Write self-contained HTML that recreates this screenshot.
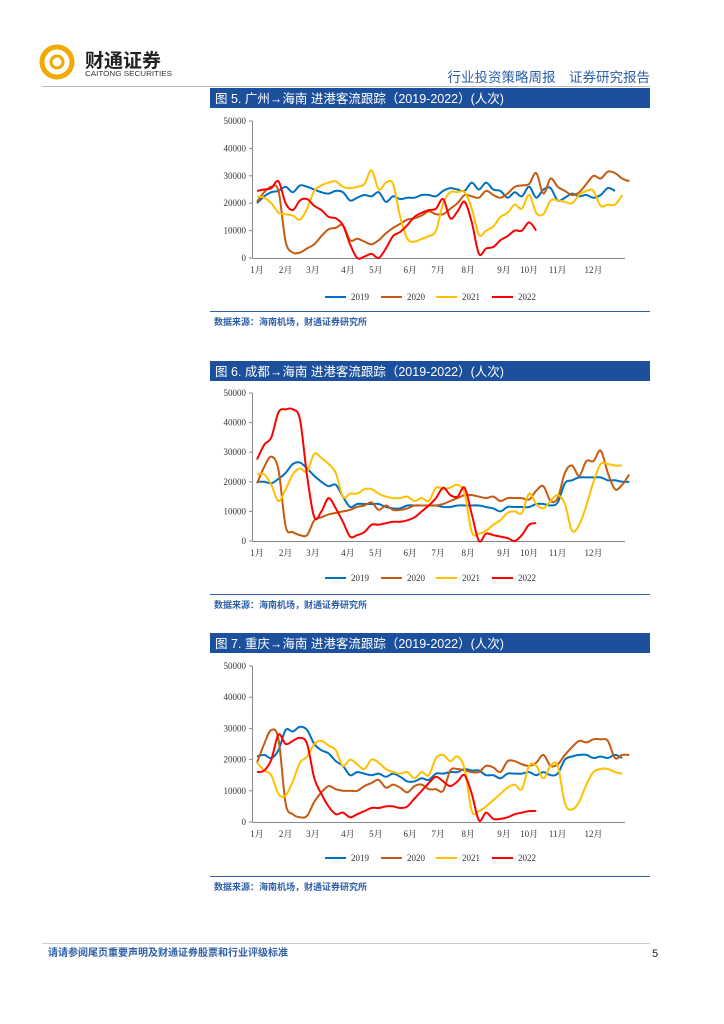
<!DOCTYPE html>
<html><head><meta charset="utf-8">
<style>
body{margin:0;background:#fff;}
svg{display:block;font-family:"Liberation Serif","Noto Serif CJK SC",serif;}
.cn{font-family:"Liberation Sans","Noto Sans CJK SC",sans-serif;}
</style></head>
<body>
<svg id="page" width="724" height="1024" viewBox="0 0 724 1024" xmlns="http://www.w3.org/2000/svg">
  <g>
    <circle cx="57" cy="62" r="15" fill="none" stroke="#f2a900" stroke-width="5"/>
    <circle cx="57" cy="62" r="6" fill="none" stroke="#f2a900" stroke-width="3"/>
    <text x="85" y="67" class="cn" font-size="19" font-weight="bold" fill="#222">财通证券</text>
    <text x="85" y="76" class="cn" font-size="7" fill="#333" textLength="87" lengthAdjust="spacingAndGlyphs">CAITONG SECURITIES</text>
  </g>
  <text x="650" y="82" text-anchor="end" class="cn" font-size="13.5" fill="#2e5fa8">行业投资策略周报　证券研究报告</text>
  <line x1="42" y1="86.5" x2="650" y2="86.5" stroke="#bbb" stroke-width="1"/>

  <g id="charts"></g>

  <line x1="42" y1="943.5" x2="650" y2="943.5" stroke="#ccc" stroke-width="1"/>
  <text x="48" y="956" class="cn" font-size="10" font-weight="bold" fill="#2e5fa8">请请参阅尾页重要声明及财通证券股票和行业评级标准</text>
  <text x="652" y="957" class="cn" font-size="11" fill="#222">5</text>
</svg>
<script>
const categories = ["1月","2月","3月","4月","5月","6月","7月","8月","9月","10月","11月","12月"];
const monthWeekIdx = [0,4,7.8,12.7,16.6,21.4,25.3,29.5,34.5,38,42,47];
const yTicks = [0,10000,20000,30000,40000,50000];
const seriesNames = ["2019","2020","2021","2022"];
const titles = ["图 5. 广州→海南  进港客流跟踪（2019-2022）(人次)","图 6. 成都→海南  进港客流跟踪（2019-2022）(人次)","图 7. 重庆→海南  进港客流跟踪（2019-2022）(人次)"];

const gz2019 = [20000,22500,24000,24500,26000,24000,26500,26000,25000,24000,23500,24500,24000,21000,22000,23000,22500,24000,20500,22500,21500,22000,22000,23000,23000,22500,24500,25500,25000,24500,27500,25000,27500,25000,24500,22000,24000,22500,26000,22000,25000,25500,21000,22000,23500,22500,23000,22000,23000,25500,24500];
const gz2020 = [20500,24000,26000,24500,6000,2000,2000,3500,5000,8000,10500,11000,12000,6500,7000,6000,5000,6500,9000,11000,12500,14000,14500,15500,17000,16000,16000,18000,20000,23000,22500,22000,24500,23000,22000,23500,26000,26500,27000,31000,23500,29000,26000,24500,23000,24000,27000,30000,29000,31500,31000,29000,28000];
const gz2021 = [22500,22000,20000,16500,16000,15500,14000,18000,24500,26500,27500,28000,26000,25500,26000,27000,32000,25000,27500,27000,15000,7000,6000,7000,8000,10000,20000,24000,24000,24000,18000,8500,10000,11500,15000,16500,19500,18000,23000,16500,16000,21000,21000,20500,20000,23000,24500,24500,19000,19500,19500,23000];
const gz2022 = [24500,25000,25500,28000,20000,17500,21000,21500,19000,17500,15000,14500,12000,5000,0,500,1500,0,3500,8000,9500,12000,15000,16500,17500,18000,21500,14500,17000,20500,13000,1500,3500,4000,6500,8000,10000,10000,13000,10000];

const cd2019 = [20000,20000,19500,21000,23000,26000,26500,24500,22000,20000,18500,19000,15000,11500,12500,12500,12500,12500,11500,11000,11000,12000,12000,12000,12000,12000,11500,11500,12000,12000,12000,12000,11500,11000,10000,11500,11500,11500,11500,12500,12500,12000,13000,19500,20500,21500,21500,21500,21500,20500,20500,20000,20000];
const cd2020 = [19500,25000,28500,24000,5000,3000,2000,2000,7000,8000,9000,9500,10000,10500,11500,12000,13000,10500,12000,10500,10500,11000,12000,12000,12000,12000,12500,13500,14500,15500,15500,15000,14500,15000,13500,14500,14500,14500,14000,17000,18500,13500,14500,23000,25500,22000,27000,27000,30500,23000,17500,19000,22500];
const cd2021 = [22500,22500,19000,13500,17500,22500,24500,23500,29500,28000,26000,23000,15000,16000,16000,17500,17500,16000,15000,14500,14500,15000,13500,14500,13500,18000,17500,18000,19000,16000,3000,2500,3500,5500,7000,9500,10000,9500,16000,12500,11000,13500,15500,12500,3500,5500,12000,20000,26000,26000,25500,25500];
const cd2022 = [27500,32500,35000,43500,44500,44500,41000,22000,8000,10000,14500,11000,6500,1500,2000,3000,5500,5500,6000,6500,6500,7000,8000,10000,12000,14500,18000,15500,15000,18000,9000,0,2500,2000,1500,1000,0,2000,5500,6000];

const cq2019 = [21000,21500,20500,23000,29500,29000,30500,29500,25000,23000,22000,19500,18000,15000,16000,15500,15000,15500,14500,15500,14500,13000,13000,14000,13500,15500,15500,16000,16000,17000,16500,16500,15000,15000,14000,15500,15500,15500,16000,15000,16000,15000,15500,20000,21000,21500,21500,20500,21000,20500,21500,20500];
const cq2020 = [19000,25000,29500,26500,6000,2500,1500,2000,6500,9500,11500,10500,10000,10000,10000,11500,12500,13500,11000,12000,11000,9500,11500,12000,10500,10500,10000,16500,17000,16500,16000,16000,18000,17500,16000,19500,19500,18500,18000,19000,21500,18000,18500,21500,24000,26000,25500,26500,26500,26000,20500,21500,21500];
const cq2021 = [19000,16500,15000,9000,8500,13000,19000,21000,25000,26000,24500,23000,18000,20000,18500,17000,20000,19000,17000,16000,15500,16000,14000,16000,15000,20500,21500,19500,21000,17000,3500,3500,5000,7000,9000,11000,12000,10500,18000,18000,14000,18000,18000,6000,4000,6500,12000,16000,17000,17000,16000,15500];
const cq2022 = [16000,16500,20000,28000,25000,26000,27000,25000,14000,9000,5000,2500,3000,1500,2500,3500,4500,4500,5000,5000,4500,5000,7500,10000,12500,14500,13000,11500,13000,15000,9000,500,3000,1000,1000,1500,2500,3000,3500,3500];

const chartSeries = [[gz2019,gz2020,gz2021,gz2022],[cd2019,cd2020,cd2021,cd2022],[cq2019,cq2020,cq2021,cq2022]];
const colors = ["#0070c0","#c55a11","#ffc000","#ff0000"];
const layouts = [
  {bar:88, y0:258, y50:121, leg:297, sep:311},
  {bar:361, y0:541, y50:393, leg:578, sep:594},
  {bar:633, y0:822, y50:666, leg:858, sep:876}
];
const NS = "http://www.w3.org/2000/svg";
const root = document.getElementById('charts');
function mk(tag, attrs, parent){const e=document.createElementNS(NS,tag);for(const k in attrs)e.setAttribute(k,attrs[k]);parent.appendChild(e);return e;}
const xLeft = 257, xStep = 7.16;
function xs(i){return xLeft + i*xStep;}
function smooth(pts){
  let d = "M"+pts[0][0].toFixed(1)+","+pts[0][1].toFixed(1);
  for(let i=0;i<pts.length-1;i++){
    const p0=pts[i-1]||pts[i], p1=pts[i], p2=pts[i+1], p3=pts[i+2]||p2;
    const c1=[p1[0]+(p2[0]-p0[0])/6, p1[1]+(p2[1]-p0[1])/6];
    const c2=[p2[0]-(p3[0]-p1[0])/6, p2[1]-(p3[1]-p1[1])/6];
    d += " C"+c1[0].toFixed(1)+","+c1[1].toFixed(1)+" "+c2[0].toFixed(1)+","+c2[1].toFixed(1)+" "+p2[0].toFixed(1)+","+p2[1].toFixed(1);
  }
  return d;
}
layouts.forEach((L, ci) => {
  const g = mk('g', {}, root);
  
  
  const ys = v => L.y0 - (v/50000)*(L.y0-L.y50);
  const bar = mk('rect', {x:210, y:L.bar, width:440, height:20, fill:'#1c4f9c'}, g);
  
  
  const t = mk('text', {x:215, y:L.bar+15, 'font-size':12.5, fill:'#fff', class:'cn'}, g);
  
  
  t.textContent = titles[ci];
  const ya = mk('line', {x1:252.5, y1:L.y50, x2:252.5, y2:L.y0, stroke:'#888', 'stroke-width':1}, g);
  
  
  yTicks.forEach(v => {
    const y = ys(v);
    mk('line', {x1:249, y1:y, x2:252.5, y2:y, stroke:'#888', 'stroke-width':1}, g);
    const tl = mk('text', {x:246, y:y+3, 'font-size':9, 'text-anchor':'end', fill:'#333'}, g);
    
    
    tl.textContent = v;
  });
  const xa = mk('line', {x1:252.5, y1:L.y0+0.5, x2:625, y2:L.y0+0.5, stroke:'#888', 'stroke-width':1}, g);
  
  
  categories.forEach((c, k) => {
    const ml = mk('text', {x:xs(monthWeekIdx[k]), y:L.y0+15, 'font-size':9, 'text-anchor':'middle', fill:'#333'}, g);
    
    
    ml.textContent = c;
  });
  chartSeries[ci].forEach((arr, si) => {
    const pts = arr.map((v, i) => [xs(i), ys(v)]);
    const p = mk('path', {d:smooth(pts), fill:'none', stroke:colors[si], 'stroke-width':2, 'stroke-linejoin':'round'}, g);
    
    
  });
  const lx = [325, 381, 436, 492];
  seriesNames.forEach((n, si) => {
    const lg = mk('g', {}, g);
    
    
    mk('line', {x1:lx[si], y1:L.leg, x2:lx[si]+21, y2:L.leg, stroke:colors[si], 'stroke-width':2}, lg);
    const lt = mk('text', {x:lx[si]+26, y:L.leg+3, 'font-size':9, fill:'#333'}, lg);
    lt.textContent = n;
  });
  const sep = mk('line', {x1:210, y1:L.sep+0.5, x2:650, y2:L.sep+0.5, stroke:'#2e5fa8', 'stroke-width':1}, g);
  
  
  const src = mk('text', {x:214, y:L.sep+14, 'font-size':9, 'font-weight':'bold', fill:'#2e5fa8', class:'cn'}, g);
  
  
  src.textContent = '数据来源：海南机场，财通证券研究所';
});
</script>
</body></html>
